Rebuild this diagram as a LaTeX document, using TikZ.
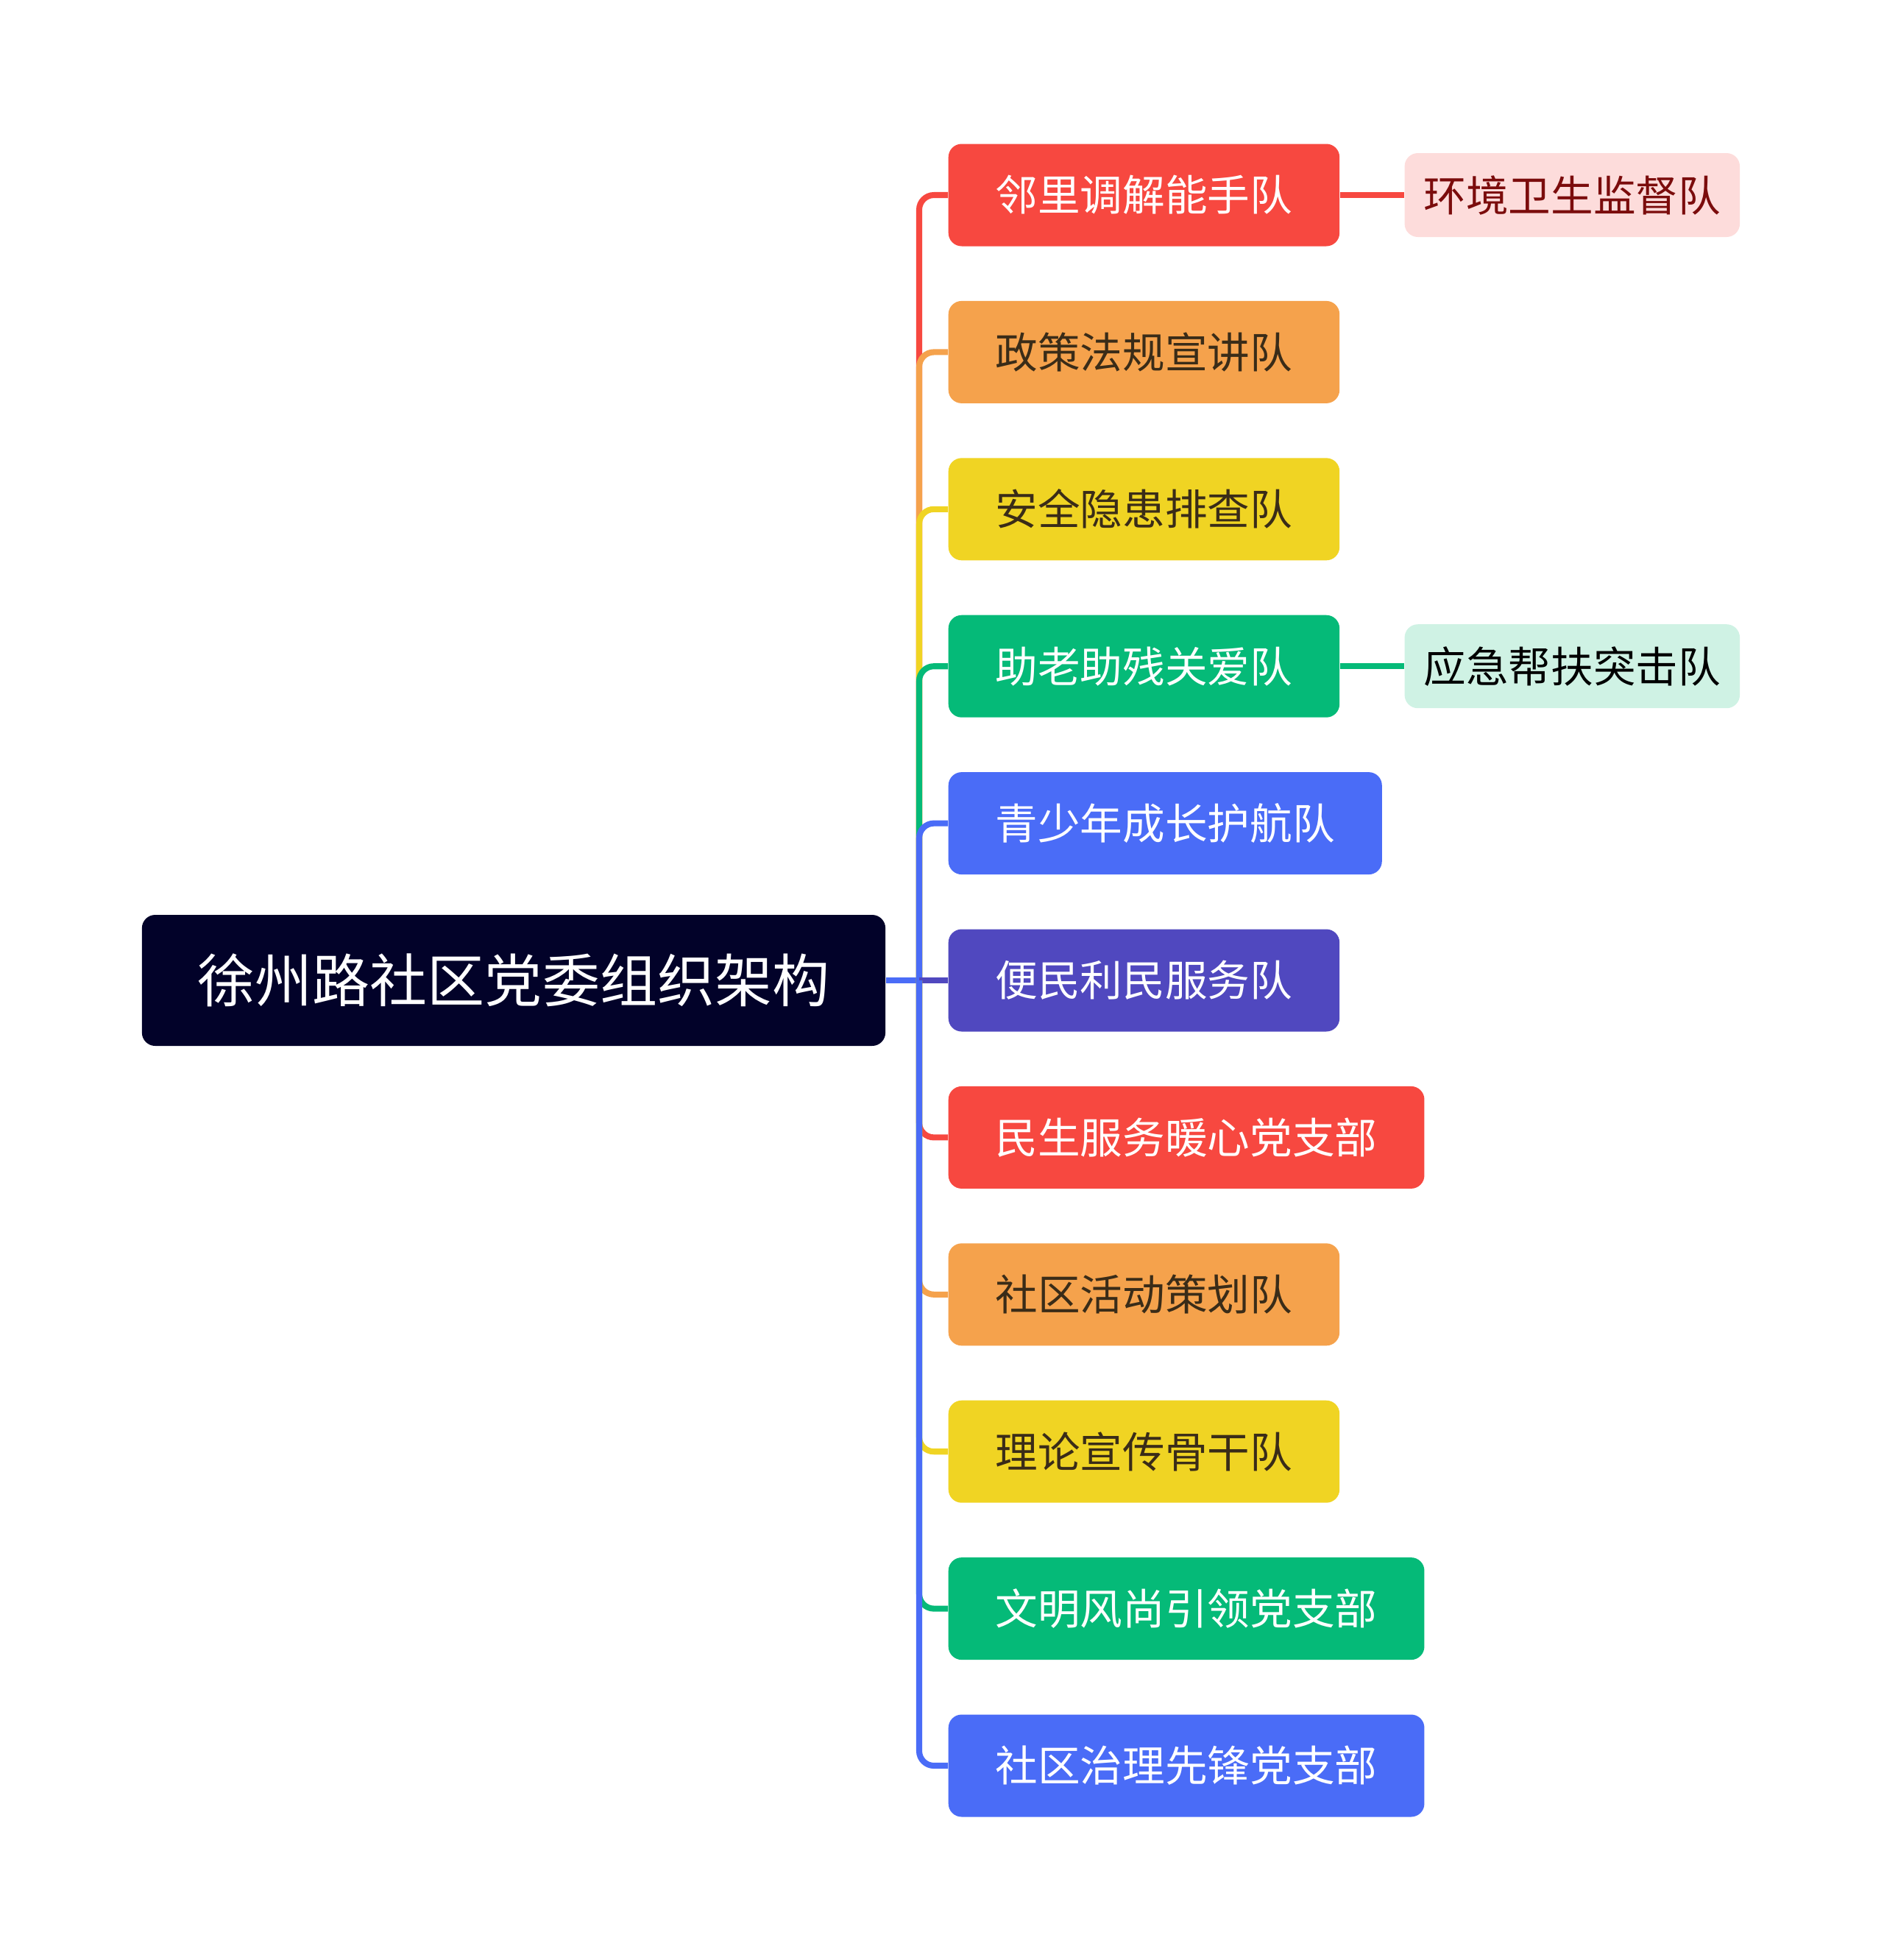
\documentclass[tikz,border=0pt]{standalone}
\usepackage{fontspec}
\setmainfont{Noto Sans CJK SC}
\usetikzlibrary{positioning}

\definecolor{rootnavy}{HTML}{020229}
\definecolor{teamred}{HTML}{F74840}
\definecolor{teamorange}{HTML}{F5A24C}
\definecolor{teamyellow}{HTML}{F0D423}
\definecolor{teamgreen}{HTML}{05BA78}
\definecolor{teamblue}{HTML}{4A6CF7}
\definecolor{teampurple}{HTML}{5048BF}
\definecolor{darktext}{HTML}{3A2C18}
\definecolor{subred}{HTML}{FDDCDB}
\definecolor{subredtext}{HTML}{7B0C0C}
\definecolor{subgreen}{HTML}{CFF2E4}

\begin{document}
\begin{tikzpicture}[
  root/.style={fill=rootnavy,text=white,rounded corners=0.18cm,inner xsep=0.76cm,inner ysep=0pt,minimum height=1.78cm,font=\fontsize{22.2pt}{26pt}\selectfont},
  team/.style={rounded corners=0.18cm,inner xsep=0.64cm,inner ysep=0pt,minimum height=1.39cm,anchor=west,font=\fontsize{16.4pt}{20pt}\selectfont},
  sub/.style={rounded corners=0.18cm,inner xsep=0.26cm,inner ysep=0pt,minimum height=1.14cm,font=\fontsize{16.4pt}{20pt}\selectfont},
  link/.style={line width=2.3pt,rounded corners=0.2cm}
]
\useasboundingbox (0,0) rectangle (25.6,-26.63);

\node[root](committee) at (6.98,-13.32) {徐州路社区党委组织架构};

\node[team,fill=teamred,text=white](mediation) at (12.88,-2.65) {邻里调解能手队};
\node[team,fill=teamorange,text=darktext](policy) at (12.88,-4.784) {政策法规宣讲队};
\node[team,fill=teamyellow,text=darktext](safety) at (12.88,-6.918) {安全隐患排查队};
\node[team,fill=teamgreen,text=white](elderly) at (12.88,-9.052) {助老助残关爱队};
\node[team,fill=teamblue,text=white](youth) at (12.88,-11.186) {青少年成长护航队};
\node[team,fill=teampurple,text=white](convenience) at (12.88,-13.32) {便民利民服务队};
\node[team,fill=teamred,text=white](livelihood) at (12.88,-15.454) {民生服务暖心党支部};
\node[team,fill=teamorange,text=darktext](activity) at (12.88,-17.588) {社区活动策划队};
\node[team,fill=teamyellow,text=darktext](theory) at (12.88,-19.722) {理论宣传骨干队};
\node[team,fill=teamgreen,text=white](civility) at (12.88,-21.856) {文明风尚引领党支部};
\node[team,fill=teamblue,text=white](governance) at (12.88,-23.99) {社区治理先锋党支部};

\node[sub,fill=subred,text=subredtext,right=0.87cm of mediation](sanitation) {环境卫生监督队};
\node[sub,fill=subgreen,text=black,right=0.87cm of elderly](emergency) {应急帮扶突击队};

\coordinate (hub) at (12.49,-13.32);

\draw[link,teamblue] (committee.east) to (hub);

\draw[link,teamred] (hub) |- (mediation.west);
\draw[link,teamorange] (hub) |- (policy.west);
\draw[link,teamyellow] (hub) |- (safety.west);
\draw[link,teamgreen] (hub) |- (elderly.west);
\draw[link,teamblue] (hub) |- (youth.west);
\draw[link,teampurple] (hub) to (convenience.west);
\draw[link,teamred] (hub) |- (livelihood.west);
\draw[link,teamorange] (hub) |- (activity.west);
\draw[link,teamyellow] (hub) |- (theory.west);
\draw[link,teamgreen] (hub) |- (civility.west);
\draw[link,teamblue] (hub) |- (governance.west);

\draw[link,teamred] (mediation.east) to (sanitation.west);
\draw[link,teamgreen] (elderly.east) to (emergency.west);

\end{tikzpicture}
\end{document}
